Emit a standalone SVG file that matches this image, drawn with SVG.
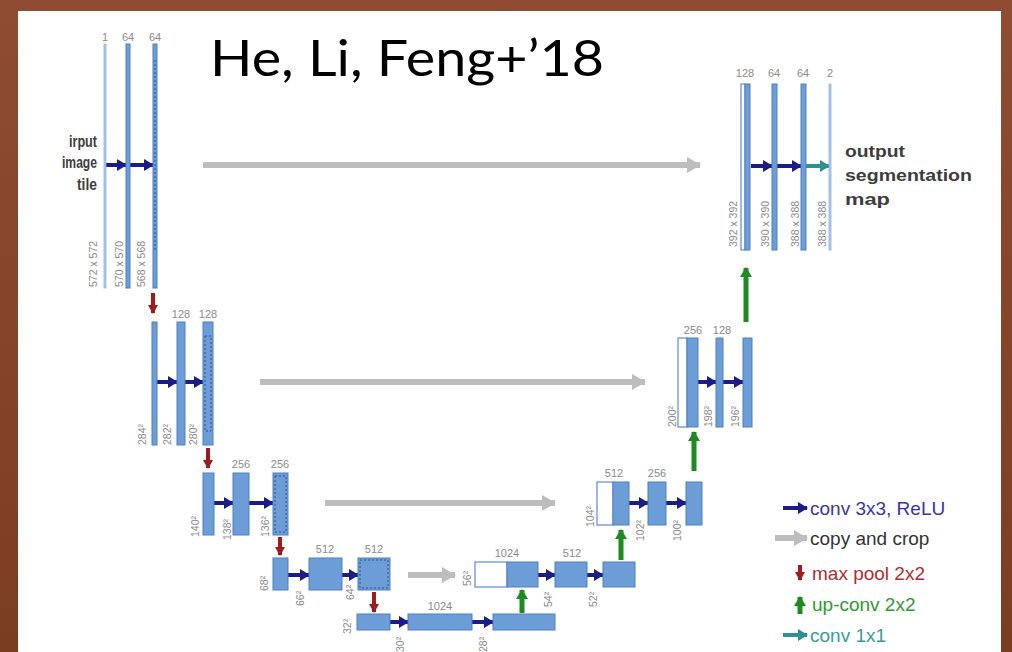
<svg xmlns="http://www.w3.org/2000/svg" width="1012" height="652" viewBox="0 0 1012 652">
<defs>
<linearGradient id="bg" x1="0" y1="0" x2="0" y2="1">
<stop offset="0" stop-color="#8f4c33"/>
<stop offset="1" stop-color="#7b3d22"/>
</linearGradient>
<marker id="mNavy" markerUnits="userSpaceOnUse" markerWidth="13" markerHeight="13" refX="9" refY="6" orient="auto"><path d="M0,0 L10,6 L0,12 Z" fill="#1c1c86"/></marker>
<marker id="mGray" markerUnits="userSpaceOnUse" markerWidth="18" markerHeight="18" refX="13" refY="8" orient="auto"><path d="M0,0 L14,8 L0,16 Z" fill="#bdbdbd"/></marker>
<marker id="mRed" markerUnits="userSpaceOnUse" markerWidth="12" markerHeight="12" refX="8" refY="5" orient="auto"><path d="M0,0 L9,5 L0,10 Z" fill="#9e1c1c"/></marker>
<marker id="mGreen" markerUnits="userSpaceOnUse" markerWidth="14" markerHeight="14" refX="9" refY="6" orient="auto"><path d="M0,0 L10,6 L0,12 Z" fill="#1f8a1f"/></marker>
<marker id="mTeal" markerUnits="userSpaceOnUse" markerWidth="13" markerHeight="13" refX="9" refY="6" orient="auto"><path d="M0,0 L10,6 L0,12 Z" fill="#2b9191"/></marker>
<style>
.bar{fill:#6d9dd6;stroke:#4f80c2;stroke-width:1}
.lite{fill:#a9c8ee;stroke:#8fb3e2;stroke-width:0.8}
.wbox{fill:#ffffff;stroke:#5c8ccc;stroke-width:1.2}
.crop{fill:none;stroke:#2d4f92;stroke-width:1;stroke-dasharray:2 2}
.ch{font-family:"Liberation Sans",Arial,sans-serif;font-size:11px;fill:#8a8a8a;text-anchor:middle}
.sz{font-family:"Liberation Sans",Arial,sans-serif;font-size:10.5px;fill:#8a8a8a}
.navy{stroke:#1c1c86;stroke-width:4;fill:none;marker-end:url(#mNavy)}
.gray{stroke:#bdbdbd;stroke-width:6;fill:none;marker-end:url(#mGray)}
.red{stroke:#9e1c1c;stroke-width:4;fill:none;marker-end:url(#mRed)}
.green{stroke:#1f8a1f;stroke-width:5;fill:none;marker-end:url(#mGreen)}
.teal{stroke:#2b9191;stroke-width:4;fill:none;marker-end:url(#mTeal)}
.io{font-family:"Liberation Sans",Arial,sans-serif;font-weight:bold;fill:#3d3d3d}
.lg{font-family:"Liberation Sans",Arial,sans-serif;font-size:19px}
</style>
</defs>
<rect x="0" y="0" width="1012" height="652" fill="url(#bg)"/>
<rect x="18" y="11" width="983" height="645" fill="#ffffff"/>
<text x="210" y="76" font-family="Lato,'Noto Sans',sans-serif" font-size="50" fill="#000" textLength="394" lengthAdjust="spacingAndGlyphs">He, Li, Feng+’18</text>

<g id="connectors">
<path class="navy" d="M106,165 H126"/>
<path class="navy" d="M130,165 H153"/>
<path class="gray" d="M203,165 H700"/>
<path class="navy" d="M751,166 H772"/>
<path class="navy" d="M777,166 H801"/>
<path class="teal" d="M806,166 H829"/>
<path class="red" d="M153,293 V313"/>
<path class="green" d="M746,322 V268"/>
<path class="navy" d="M157,382 H177"/>
<path class="navy" d="M185,382 H203"/>
<path class="gray" d="M260,382 H645"/>
<path class="navy" d="M698,382 H716"/>
<path class="navy" d="M723,382 H743"/>
<path class="red" d="M208,448 V468"/>
<path class="green" d="M694,471 V432"/>
<path class="navy" d="M214,503 H233"/>
<path class="navy" d="M249,503 H273"/>
<path class="gray" d="M325,503 H555"/>
<path class="navy" d="M629,503 H648"/>
<path class="navy" d="M666,503 H686"/>
<path class="red" d="M280,537 V555"/>
<path class="green" d="M621,560 V530"/>
<path class="navy" d="M288,575 H309"/>
<path class="navy" d="M342,575 H358"/>
<path class="gray" d="M408,575 H455"/>
<path class="navy" d="M538,575 H555"/>
<path class="navy" d="M587,575 H603"/>
<path class="red" d="M374,592 V612"/>
<path class="green" d="M522,613 V590"/>
<path class="navy" d="M390,622 H408"/>
<path class="navy" d="M472,622 H493"/>
</g>

<g id="input-text">
<text class="io" font-size="16" x="97" y="147" text-anchor="end" textLength="28" lengthAdjust="spacingAndGlyphs">irput</text>
<text class="io" font-size="16" x="97" y="168" text-anchor="end" textLength="35" lengthAdjust="spacingAndGlyphs">image</text>
<text class="io" font-size="16" x="97" y="190" text-anchor="end" textLength="20" lengthAdjust="spacingAndGlyphs">tile</text>
</g>

<g id="n1a"><rect class="lite" x="104" y="44" width="2" height="244"/><text class="ch" x="105" y="41">1</text><text class="sz" transform="translate(97,287) rotate(-90)">572 x 572</text></g>
<g id="n1b"><rect class="bar" x="126" y="44" width="4" height="244"/><text class="ch" x="128" y="41">64</text><text class="sz" transform="translate(123,287) rotate(-90)">570 x 570</text></g>
<g id="n1c"><rect class="bar" x="153" y="44" width="4" height="244"/><line x1="155" y1="60" x2="155" y2="250" stroke="#2d4f92" stroke-width="1" stroke-dasharray="2 2"/><text class="ch" x="155" y="41">64</text><text class="sz" transform="translate(145,287) rotate(-90)">568 x 568</text></g>

<g id="n2a"><rect class="bar" x="152" y="322" width="5" height="123"/><text class="sz" transform="translate(146,445) rotate(-90)">284²</text></g>
<g id="n2b"><rect class="bar" x="177" y="322" width="8" height="123"/><text class="ch" x="181" y="318">128</text><text class="sz" transform="translate(171,445) rotate(-90)">282²</text></g>
<g id="n2c"><rect class="bar" x="203" y="322" width="10" height="123"/><rect class="crop" x="205" y="336" width="6" height="95"/><text class="ch" x="208" y="318">128</text><text class="sz" transform="translate(197,445) rotate(-90)">280²</text></g>

<g id="n3a"><rect class="bar" x="203" y="473" width="11" height="62"/><text class="sz" transform="translate(199,537) rotate(-90)">140²</text></g>
<g id="n3b"><rect class="bar" x="233" y="473" width="16" height="62"/><text class="ch" x="241" y="468">256</text><text class="sz" transform="translate(231,540) rotate(-90)">138²</text></g>
<g id="n3c"><rect class="bar" x="273" y="473" width="15" height="62"/><rect class="crop" x="275" y="476" width="11" height="56"/><text class="ch" x="280" y="468">256</text><text class="sz" transform="translate(269,537) rotate(-90)">136²</text></g>

<g id="n4a"><rect class="bar" x="273" y="558" width="15" height="32"/><text class="sz" transform="translate(268,591) rotate(-90)">68²</text></g>
<g id="n4b"><rect class="bar" x="309" y="558" width="33" height="32"/><text class="ch" x="325" y="553">512</text><text class="sz" transform="translate(304,606) rotate(-90)">66²</text></g>
<g id="n4c"><rect class="bar" x="358" y="558" width="32" height="32"/><rect class="crop" x="360" y="560" width="28" height="28"/><text class="ch" x="374" y="553">512</text><text class="sz" transform="translate(354,600) rotate(-90)">64²</text></g>

<g id="n5a"><rect class="bar" x="357" y="614" width="33" height="16"/><text class="sz" transform="translate(351,634) rotate(-90)">32²</text></g>
<g id="n5b"><rect class="bar" x="408" y="614" width="64" height="16"/><text class="ch" x="440" y="610">1024</text><text class="sz" transform="translate(404,652) rotate(-90)">30²</text></g>
<g id="n5c"><rect class="bar" x="493" y="614" width="62" height="16"/><text class="sz" transform="translate(487,652) rotate(-90)">28²</text></g>

<g id="u4a"><rect class="wbox" x="475" y="562" width="32" height="25"/><rect class="bar" x="507" y="562" width="31" height="25"/><text class="ch" x="507" y="557">1024</text><text class="sz" transform="translate(471,586) rotate(-90)">56²</text></g>
<g id="u4b"><rect class="bar" x="555" y="562" width="32" height="25"/><text class="ch" x="572" y="557">512</text><text class="sz" transform="translate(552,607) rotate(-90)">54²</text></g>
<g id="u4c"><rect class="bar" x="603" y="562" width="32" height="25"/><text class="sz" transform="translate(597,607) rotate(-90)">52²</text></g>

<g id="u3a"><rect class="wbox" x="597" y="482" width="16" height="43"/><rect class="bar" x="613" y="482" width="16" height="43"/><text class="ch" x="614" y="477">512</text><text class="sz" transform="translate(594,527) rotate(-90)">104²</text></g>
<g id="u3b"><rect class="bar" x="648" y="482" width="18" height="43"/><text class="ch" x="657" y="477">256</text><text class="sz" transform="translate(644,541) rotate(-90)">102²</text></g>
<g id="u3c"><rect class="bar" x="686" y="482" width="16" height="43"/><text class="sz" transform="translate(681,541) rotate(-90)">100²</text></g>

<g id="u2a"><rect class="wbox" x="678" y="338" width="9" height="89"/><rect class="bar" x="687" y="338" width="11" height="89"/><text class="ch" x="693" y="334">256</text><text class="sz" transform="translate(676,427) rotate(-90)">200²</text></g>
<g id="u2b"><rect class="bar" x="716" y="338" width="7" height="89"/><text class="ch" x="722" y="334">128</text><text class="sz" transform="translate(712,427) rotate(-90)">198²</text></g>
<g id="u2c"><rect class="bar" x="743" y="338" width="9" height="89"/><text class="sz" transform="translate(739,427) rotate(-90)">196²</text></g>

<g id="u1a"><rect class="wbox" x="741" y="84" width="4" height="166"/><rect class="bar" x="745" y="84" width="5" height="166"/><text class="ch" x="745" y="77">128</text><text class="sz" transform="translate(737,247) rotate(-90)">392 x 392</text></g>
<g id="u1b"><rect class="bar" x="772" y="84" width="5" height="166"/><text class="ch" x="774" y="77">64</text><text class="sz" transform="translate(769,247) rotate(-90)">390 x 390</text></g>
<g id="u1c"><rect class="bar" x="801" y="84" width="5" height="166"/><text class="ch" x="803" y="77">64</text><text class="sz" transform="translate(799,247) rotate(-90)">388 x 388</text></g>
<g id="u1d"><rect class="lite" x="829" y="84" width="2" height="166"/><text class="ch" x="830" y="77">2</text><text class="sz" transform="translate(826,247) rotate(-90)">388 x 388</text></g>

<g id="output-text">
<text class="io" font-size="17" x="845" y="157" textLength="60" lengthAdjust="spacingAndGlyphs">output</text>
<text class="io" font-size="17" x="845" y="181" textLength="127" lengthAdjust="spacingAndGlyphs">segmentation</text>
<text class="io" font-size="17" x="845" y="205" textLength="45" lengthAdjust="spacingAndGlyphs">map</text>
</g>

<g id="legend">
<path class="navy" d="M783,508 H807"/>
<text class="lg" x="810" y="515" fill="#3636a8">conv 3x3, ReLU</text>
<path class="gray" d="M775,538 H807"/>
<text class="lg" x="810" y="545" fill="#333333">copy and crop</text>
<path class="red" d="M800,565 V580"/>
<text class="lg" x="812" y="580" fill="#b02e2e">max pool 2x2</text>
<path class="green" d="M800,614 V597"/>
<text class="lg" x="812" y="611" fill="#2e9a2e">up-conv 2x2</text>
<path class="teal" d="M783,635 H807"/>
<text class="lg" x="810" y="642" fill="#3a9b9b">conv 1x1</text>
</g>
</svg>
